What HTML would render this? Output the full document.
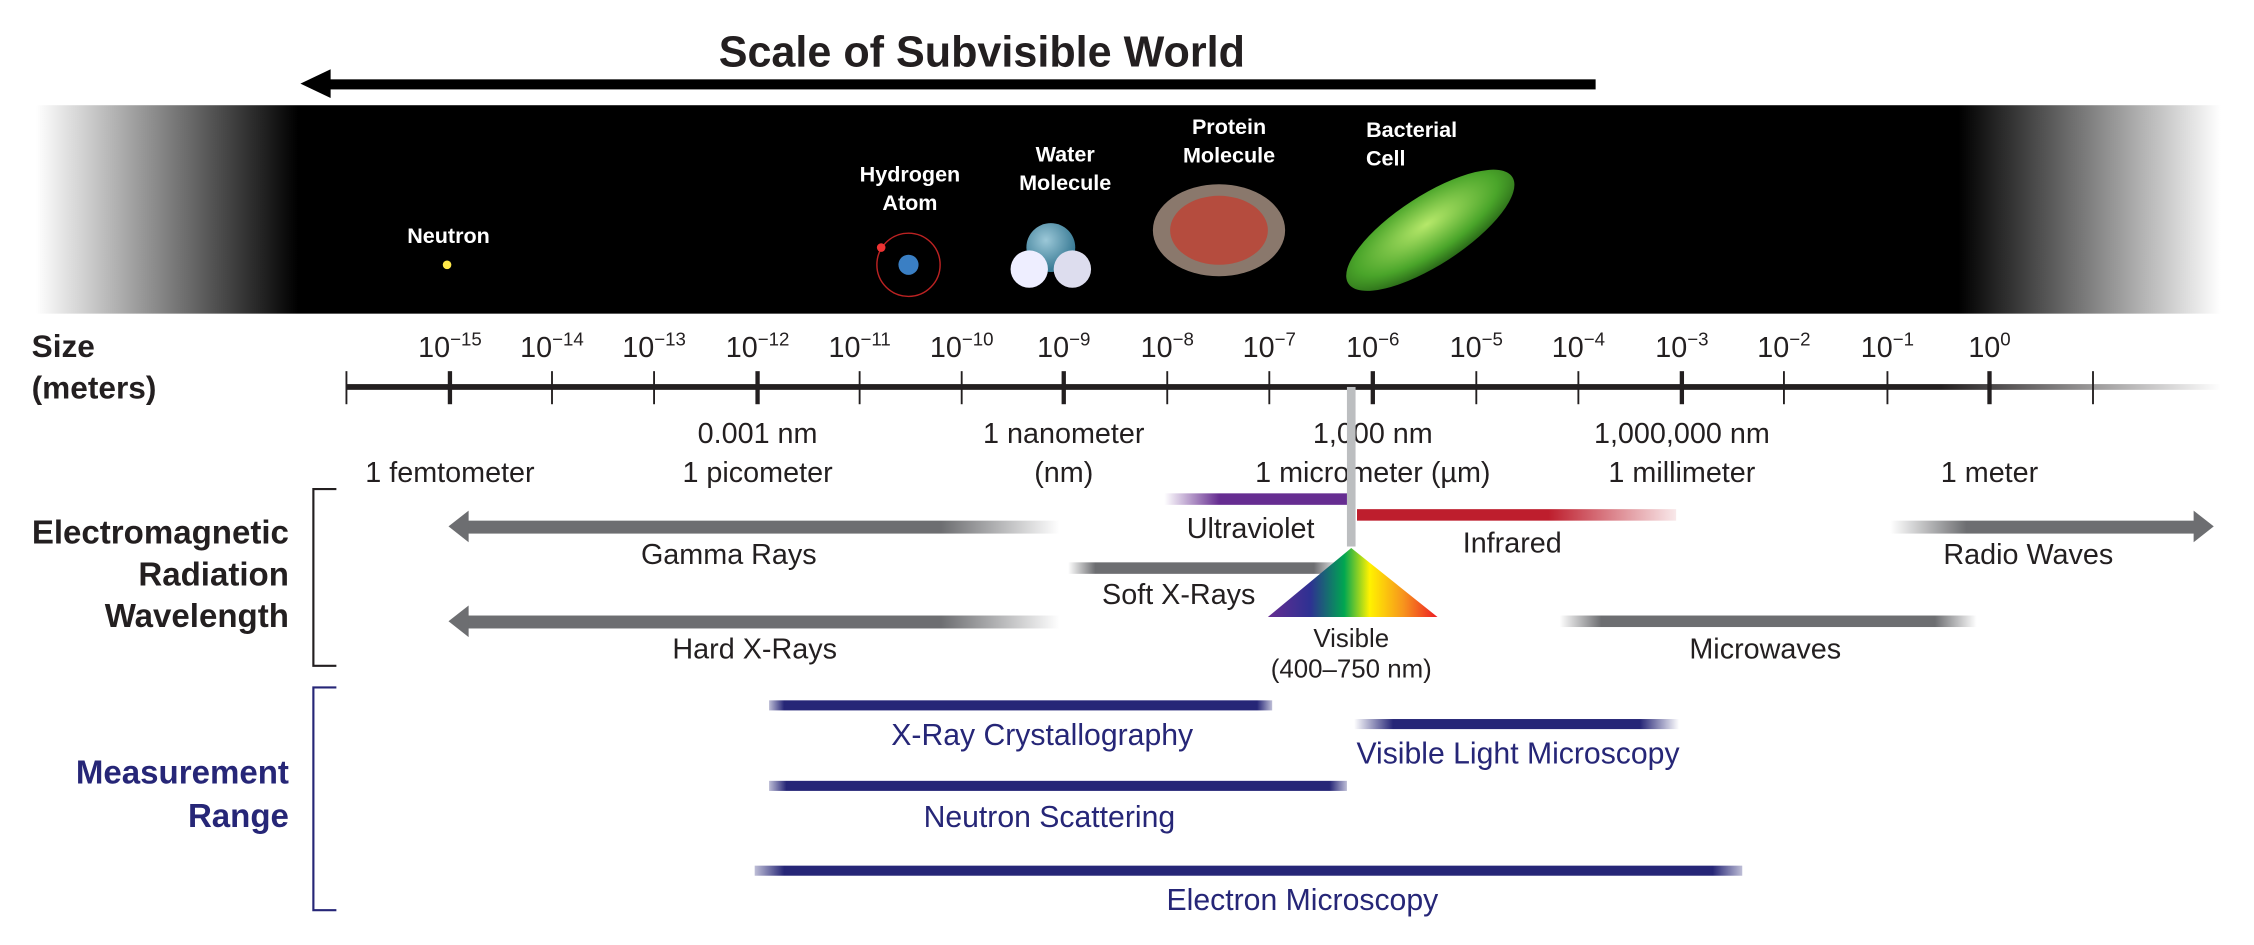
<!DOCTYPE html>
<html><head><meta charset="utf-8"><style>html,body{margin:0;padding:0;background:#fff;overflow:hidden}svg{display:block}</style></head>
<body>
<svg width="2254" height="945" viewBox="0 0 1568 657" xmlns="http://www.w3.org/2000/svg" font-family="'Liberation Sans Narrow','Liberation Sans',sans-serif">
<defs>
<linearGradient id="band" x1="0" x2="1"><stop offset="0" stop-color="#fff"/><stop offset="0.12" stop-color="#000"/><stop offset="0.88" stop-color="#000"/><stop offset="1" stop-color="#fff"/></linearGradient>
<linearGradient id="axis" x1="0" x2="1"><stop offset="0.85" stop-color="#231f20"/><stop offset="1" stop-color="#231f20" stop-opacity="0"/></linearGradient>
<linearGradient id="gR" x1="0" x2="1"><stop offset="0.8" stop-color="#6d6e71"/><stop offset="1" stop-color="#6d6e71" stop-opacity="0"/></linearGradient>
<linearGradient id="gL" x1="0" x2="1"><stop offset="0" stop-color="#6d6e71" stop-opacity="0"/><stop offset="0.25" stop-color="#6d6e71"/></linearGradient>
<linearGradient id="gB" x1="0" x2="1"><stop offset="0" stop-color="#6d6e71" stop-opacity="0"/><stop offset="0.1" stop-color="#6d6e71"/><stop offset="0.9" stop-color="#6d6e71"/><stop offset="1" stop-color="#6d6e71" stop-opacity="0"/></linearGradient>
<linearGradient id="uv" x1="0" x2="1"><stop offset="0" stop-color="#662d91" stop-opacity="0"/><stop offset="0.3" stop-color="#662d91"/></linearGradient>
<linearGradient id="ir" x1="0" x2="1"><stop offset="0.6" stop-color="#be1e2d"/><stop offset="1" stop-color="#be1e2d" stop-opacity="0.1"/></linearGradient>
<linearGradient id="nB" x1="0" x2="1"><stop offset="0" stop-color="#262677" stop-opacity="0.3"/><stop offset="0.03" stop-color="#262677"/><stop offset="0.97" stop-color="#262677"/><stop offset="1" stop-color="#262677" stop-opacity="0.3"/></linearGradient>
<linearGradient id="nB2" x1="0" x2="1"><stop offset="0" stop-color="#262677" stop-opacity="0"/><stop offset="0.12" stop-color="#262677"/><stop offset="0.88" stop-color="#262677"/><stop offset="1" stop-color="#262677" stop-opacity="0"/></linearGradient>
<linearGradient id="rb" x1="0" x2="1"><stop offset="0" stop-color="#662d91"/><stop offset="0.25" stop-color="#2e3192"/><stop offset="0.45" stop-color="#00a651"/><stop offset="0.6" stop-color="#fff200"/><stop offset="0.8" stop-color="#f7941d"/><stop offset="1" stop-color="#ed1c24"/></linearGradient>
<radialGradient id="bac" cx="0.5" cy="0.4" r="0.6"><stop offset="0" stop-color="#b6e86a"/><stop offset="0.7" stop-color="#4aa52a"/><stop offset="1" stop-color="#2a6a18"/></radialGradient>
<radialGradient id="wat" cx="0.4" cy="0.35" r="0.6"><stop offset="0" stop-color="#9cc8d8"/><stop offset="1" stop-color="#3b7c96"/></radialGradient>
</defs>
<text x="683" y="46" text-anchor="middle" font-size="30" font-weight="bold" fill="#231f20">Scale of Subvisible World</text>
<rect x="226" y="55" width="884" height="7" fill="#000"/>
<polygon points="209,58 230,48 230,68" fill="#000"/>
<rect x="25" y="73" width="1520" height="145" fill="url(#band)"/>
<g fill="#fff" font-weight="bold" font-size="15" text-anchor="middle" font-family="'Liberation Sans',sans-serif">
<text x="312" y="169">Neutron</text>
<text x="633" y="126">Hydrogen</text><text x="633" y="146">Atom</text>
<text x="741" y="112">Water</text><text x="741" y="132">Molecule</text>
<text x="855" y="93">Protein</text><text x="855" y="113">Molecule</text>
<text x="982" y="95">Bacterial</text><text x="964" y="115">Cell</text>
</g>
<circle cx="311" cy="184" r="3" fill="#ffe94a"/>
<circle cx="632" cy="184" r="22" fill="none" stroke="#b22" stroke-width="1"/>
<circle cx="632" cy="184" r="7" fill="#3a7fc4"/><circle cx="613" cy="172" r="3" fill="#e33"/>
<circle cx="731" cy="172" r="17" fill="url(#wat)"/><circle cx="716" cy="187" r="13" fill="#eef"/><circle cx="746" cy="187" r="13" fill="#dde"/>
<ellipse cx="848" cy="160" rx="46" ry="32" fill="#8a786c"/><ellipse cx="848" cy="160" rx="34" ry="24" fill="#c8392b" opacity="0.7"/>
<ellipse cx="995" cy="160" rx="68" ry="24" transform="rotate(-33 995 160)" fill="url(#bac)"/>
<text x="22" y="248" font-size="22" font-weight="bold" fill="#231f20">Size</text>
<text x="22" y="277" font-size="22" font-weight="bold" fill="#231f20">(meters)</text>
<g font-size="20" fill="#231f20" text-anchor="middle">
<text x="313" y="248">10<tspan dy="-8" font-size="13">−15</tspan></text>
<text x="384" y="248">10<tspan dy="-8" font-size="13">−14</tspan></text>
<text x="455" y="248">10<tspan dy="-8" font-size="13">−13</tspan></text>
<text x="527" y="248">10<tspan dy="-8" font-size="13">−12</tspan></text>
<text x="598" y="248">10<tspan dy="-8" font-size="13">−11</tspan></text>
<text x="669" y="248">10<tspan dy="-8" font-size="13">−10</tspan></text>
<text x="740" y="248">10<tspan dy="-8" font-size="13">−9</tspan></text>
<text x="812" y="248">10<tspan dy="-8" font-size="13">−8</tspan></text>
<text x="883" y="248">10<tspan dy="-8" font-size="13">−7</tspan></text>
<text x="955" y="248">10<tspan dy="-8" font-size="13">−6</tspan></text>
<text x="1027" y="248">10<tspan dy="-8" font-size="13">−5</tspan></text>
<text x="1098" y="248">10<tspan dy="-8" font-size="13">−4</tspan></text>
<text x="1170" y="248">10<tspan dy="-8" font-size="13">−3</tspan></text>
<text x="1241" y="248">10<tspan dy="-8" font-size="13">−2</tspan></text>
<text x="1313" y="248">10<tspan dy="-8" font-size="13">−1</tspan></text>
<text x="1384" y="248">10<tspan dy="-8" font-size="13">0</tspan></text>
</g>
<rect x="241" y="267" width="1304" height="4" fill="url(#axis)"/>
<g stroke="#231f20" stroke-width="1.3">
<line x1="241" y1="258" x2="241" y2="281"/><line x1="384" y1="258" x2="384" y2="281"/><line x1="455" y1="258" x2="455" y2="281"/><line x1="598" y1="258" x2="598" y2="281"/><line x1="669" y1="258" x2="669" y2="281"/><line x1="812" y1="258" x2="812" y2="281"/><line x1="883" y1="258" x2="883" y2="281"/><line x1="1027" y1="258" x2="1027" y2="281"/><line x1="1098" y1="258" x2="1098" y2="281"/><line x1="1241" y1="258" x2="1241" y2="281"/><line x1="1313" y1="258" x2="1313" y2="281"/><line x1="1456" y1="258" x2="1456" y2="281"/>
</g>
<g stroke="#231f20" stroke-width="3">
<line x1="313" y1="258" x2="313" y2="281"/><line x1="527" y1="258" x2="527" y2="281"/><line x1="740" y1="258" x2="740" y2="281"/><line x1="955" y1="258" x2="955" y2="281"/><line x1="1170" y1="258" x2="1170" y2="281"/><line x1="1384" y1="258" x2="1384" y2="281"/>
</g>
<g font-size="20" fill="#231f20" text-anchor="middle">
<text x="527" y="308">0.001 nm</text><text x="740" y="308">1 nanometer</text><text x="955" y="308">1,000 nm</text><text x="1170" y="308">1,000,000 nm</text>
<text x="313" y="335">1 femtometer</text><text x="527" y="335">1 picometer</text><text x="740" y="335">(nm)</text><text x="955" y="335">1 micrometer (µm)</text><text x="1170" y="335">1 millimeter</text><text x="1384" y="335">1 meter</text>
</g>
<rect x="937" y="269" width="6" height="111" fill="#bcbec0"/>
<path d="M234,340 H218 V463 H234" fill="none" stroke="#231f20" stroke-width="1.5"/>
<g font-size="23" font-weight="bold" fill="#231f20" text-anchor="end">
<text x="201" y="378">Electromagnetic</text><text x="201" y="407">Radiation</text><text x="201" y="436">Wavelength</text>
</g>
<rect x="325" y="362" width="412" height="9" fill="url(#gR)"/><polygon points="312,366 326,355 326,377" fill="#6d6e71"/>
<rect x="325" y="428" width="412" height="9" fill="url(#gR)"/><polygon points="312,432 326,421 326,443" fill="#6d6e71"/>
<rect x="810" y="343" width="127" height="8" fill="url(#uv)"/>
<rect x="944" y="354" width="222" height="8" fill="url(#ir)"/>
<rect x="743" y="391" width="190" height="8" fill="url(#gB)"/>
<rect x="1085" y="428" width="290" height="8" fill="url(#gB)"/>
<rect x="1315" y="362" width="212" height="9" fill="url(#gL)"/><polygon points="1540,366 1526,355 1526,377" fill="#6d6e71"/>
<polygon points="940,381 882,429 1000,429" fill="url(#rb)"/>
<g font-size="20" fill="#231f20" text-anchor="middle">
<text x="507" y="392">Gamma Rays</text><text x="525" y="458">Hard X-Rays</text>
<text x="870" y="374">Ultraviolet</text><text x="1052" y="384">Infrared</text>
<text x="820" y="420">Soft X-Rays</text><text x="1228" y="458">Microwaves</text>
<text x="1411" y="392">Radio Waves</text>
<text x="940" y="450" font-size="18">Visible</text><text x="940" y="471" font-size="18">(400–750 nm)</text>
</g>
<path d="M234,478 H218 V633 H234" fill="none" stroke="#262677" stroke-width="1.5"/>
<g font-size="23" font-weight="bold" fill="#262677" text-anchor="end">
<text x="201" y="545">Measurement</text><text x="201" y="575">Range</text>
</g>
<rect x="535" y="487" width="350" height="7" fill="url(#nB)"/>
<rect x="942" y="500" width="226" height="7" fill="url(#nB2)"/>
<rect x="535" y="543" width="402" height="7" fill="url(#nB)"/>
<rect x="525" y="602" width="687" height="7" fill="url(#nB)"/>
<g font-size="21" fill="#262677" text-anchor="middle">
<text x="725" y="518">X-Ray Crystallography</text>
<text x="1056" y="531">Visible Light Microscopy</text>
<text x="730" y="575">Neutron Scattering</text>
<text x="906" y="633">Electron Microscopy</text>
</g>
</svg>
</body></html>
